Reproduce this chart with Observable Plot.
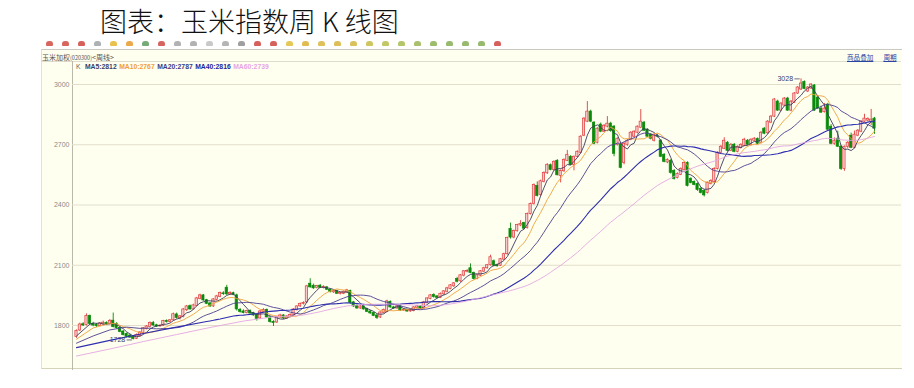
<!DOCTYPE html>
<html>
<head>
<meta charset="utf-8">
<script src="https://cdn.jsdelivr.net/npm/d3@7"></script>
<script src="https://cdn.jsdelivr.net/npm/@observablehq/plot@0.6"></script>
<style>
html, body { margin: 0; padding: 0; background: #ffffff; }
#root { position: relative; width: 914px; height: 388px; overflow: hidden; font-family: "Noto Sans CJK SC", sans-serif; }
#title { position: absolute; left: 100px; top: 4px; font-size: 27px; font-weight: 300; line-height: 34px; color: #111; white-space: pre; }
#panel { position: absolute; left: 0; top: 36px; width: 914px; height: 352px; }
#bg { position: absolute; left: 41px; top: 13px; width: 860px; height: 318px; background: #fffff0; border-top: 1px solid #c9c9c0; border-left: 1px solid #e2e2d4; border-bottom: 1px solid #d6d4b8; }
#sep { position: absolute; left: 41px; top: 25px; width: 860px; height: 1px; background: #dedccc; }
#axisline { position: absolute; left: 72px; top: 25px; width: 1px; height: 309px; background: #b9b9aa; }
#head { position: absolute; left: 42px; top: 15px; font-size: 7px; line-height: 12px; color: #555; white-space: pre; }
#head .code { font-size: 5.5px; }
#links { position: absolute; left: 847px; top: 15px; font-size: 6.6px; line-height: 12px; color: #2a44a0; white-space: pre; }
#links span { text-decoration: underline; margin-right: 10px; }
#legend { position: absolute; left: 76px; top: 26px; font-family: "Liberation Sans", sans-serif; font-weight: bold; font-size: 6.8px; line-height: 10px; white-space: pre; }
#legend span { margin-right: 2.5px; }
#toolbar span { position: absolute; top: 5px; width: 7px; height: 5px; border-radius: 3px 3px 1px 1px; opacity: 0.85; }
#chart { position: absolute; left: 0; top: 0; }
</style>
</head>
<body>
<div id="root">
  <div id="title">图表：玉米指数周 K 线图</div>
  <div id="panel">
    <div id="toolbar"></div>
    <div id="bg"></div>
    <div id="sep"></div>
    <div id="head">玉米加权<span class="code">(020300)</span>&lt;周线&gt;</div>
    <div id="links"><span>商品叠加</span><span>周期</span></div>
    <div id="legend"></div>
    <div id="axisline"></div>
    <div id="chart"></div>
  </div>
</div>
<script>
// ---- weekly candles ----
const open = [
1742,1775,1806,1802,1848,1808,1803,1797,1808,1813,
1806,1824,1808,1788,1770,1758,1750,1744,1734,1748,
1762,1784,1793,1812,1801,1796,1798,1822,1818,1826,
1855,1836,1842,1876,1896,1880,1898,1932,1950,1926,
1910,1895,1928,1942,1960,1988,1955,1961,1950,1878,
1870,1862,1872,1862,1852,1835,1868,1878,1840,1818,
1815,1840,1850,1835,1842,1850,1878,1895,1908,1915,
2008,1998,1988,1998,1988,1990,1978,1965,1972,1958,
1958,1965,1972,1915,1898,1885,1895,1882,1870,1862,
1850,1840,1862,1868,1918,1890,1885,1895,1875,1878,
1870,1872,1888,1895,1885,1912,1932,1952,1945,1938,
1955,1968,1982,1995,2032,2020,2048,2068,2085,2062,
2032,2048,2068,2085,2100,2120,2100,2098,2128,2155,
2280,2238,2270,2298,2310,2285,2355,2405,2495,2450,
2515,2558,2598,2575,2620,2545,2568,2620,2640,2600,
2640,2660,2745,2815,2865,2810,2710,2800,2765,2790,
2805,2790,2700,2700,2610,2700,2725,2740,2760,2785,
2810,2775,2750,2720,2745,2720,2650,2612,2620,2570,
2535,2550,2575,2610,2530,2515,2505,2480,2470,2460,
2505,2515,2580,2660,2680,2710,2670,2700,2665,2685,
2695,2720,2700,2720,2728,2710,2780,2757,2810,2840,
2915,2870,2895,2930,2870,2910,2955,2975,3012,2965,
2980,2995,2935,2880,2862,2900,2790,2705,2730,2690,
2580,2690,2745,2685,2745,2765,2815,2820,2815,2830];
const high = [
1778,1812,1814,1858,1852,1816,1810,1815,1822,1818,
1830,1862,1814,1793,1775,1762,1756,1750,1758,1770,
1790,1800,1818,1820,1806,1804,1826,1828,1830,1862,
1862,1850,1885,1900,1902,1906,1940,1956,1954,1930,
1914,1934,1950,1966,1968,2000,1968,1966,1956,1885,
1878,1876,1878,1866,1856,1874,1884,1882,1845,1824,
1846,1856,1854,1850,1858,1884,1898,1912,1918,2000,
2033,2006,2000,2004,1998,1994,1982,1976,1975,1966,
1972,1980,1976,1920,1902,1900,1898,1886,1874,1866,
1854,1868,1882,1926,1922,1896,1900,1898,1884,1882,
1880,1894,1900,1898,1920,1938,1954,1958,1948,1962,
1974,1990,2004,2014,2040,2054,2074,2078,2107,2066,
2054,2074,2090,2104,2150,2126,2106,2134,2160,2240,
2310,2275,2304,2322,2314,2360,2410,2505,2515,2524,
2565,2606,2604,2620,2626,2575,2630,2672,2646,2644,
2670,2745,2835,2915,2872,2815,2785,2808,2800,2840,
2812,2796,2735,2706,2710,2726,2765,2770,2794,2875,
2816,2780,2756,2754,2752,2726,2656,2630,2626,2576,
2560,2585,2615,2615,2536,2520,2510,2486,2476,2514,
2526,2586,2665,2696,2735,2716,2706,2706,2694,2705,
2732,2726,2730,2736,2734,2766,2786,2820,2846,2930,
2922,2910,2935,2936,2920,2960,2990,3028,3018,2990,
3004,3000,2942,2892,2906,2906,2800,2734,2768,2696,
2694,2716,2758,2768,2776,2820,2852,2834,2876,2836];
const low = [
1736,1770,1795,1798,1800,1794,1790,1794,1800,1801,
1802,1788,1782,1764,1748,1738,1735,1728,1730,1742,
1758,1778,1788,1796,1790,1790,1795,1812,1814,1822,
1832,1828,1838,1870,1876,1876,1894,1928,1920,1904,
1890,1890,1922,1938,1950,1950,1950,1948,1872,1862,
1858,1858,1856,1846,1822,1830,1862,1836,1812,1795,
1810,1836,1830,1830,1838,1846,1872,1890,1902,1910,
1986,1980,1982,1984,1982,1974,1962,1960,1954,1952,
1954,1960,1906,1890,1880,1880,1876,1864,1856,1844,
1830,1835,1858,1864,1886,1880,1880,1870,1870,1865,
1866,1868,1884,1880,1882,1908,1928,1936,1932,1934,
1950,1962,1978,1990,2012,2015,2042,2062,2058,2026,
2028,2044,2064,2080,2096,2092,2090,2094,2124,2150,
2230,2232,2264,2292,2276,2280,2350,2400,2440,2444,
2510,2552,2570,2570,2545,2510,2562,2616,2596,2570,
2634,2655,2740,2810,2810,2700,2704,2760,2760,2784,
2762,2640,2694,2580,2600,2692,2720,2734,2754,2780,
2766,2736,2724,2714,2734,2636,2610,2606,2554,2524,
2530,2546,2570,2490,2505,2496,2468,2455,2440,2455,
2500,2510,2574,2654,2676,2664,2666,2660,2660,2680,
2690,2696,2694,2716,2700,2704,2750,2752,2805,2835,
2866,2864,2890,2866,2864,2905,2950,2970,2974,2960,
2975,2866,2876,2856,2858,2770,2700,2698,2686,2572,
2568,2680,2680,2680,2740,2760,2810,2815,2795,2752];
const close = [
1772,1805,1800,1848,1808,1800,1797,1810,1814,1806,
1822,1792,1787,1768,1752,1744,1740,1733,1752,1765,
1786,1795,1813,1800,1795,1799,1822,1818,1826,1856,
1838,1846,1880,1895,1880,1900,1935,1950,1925,1908,
1895,1930,1945,1962,1956,1955,1962,1952,1880,1868,
1862,1872,1860,1850,1832,1870,1878,1840,1818,1812,
1842,1850,1835,1845,1852,1880,1895,1908,1912,1995,
1990,1985,1996,1988,1992,1978,1968,1972,1958,1962,
1968,1975,1912,1895,1885,1895,1880,1868,1860,1848,
1838,1865,1878,1920,1890,1885,1895,1875,1878,1870,
1875,1890,1895,1885,1915,1935,1950,1942,1938,1958,
1970,1985,2000,2010,2018,2050,2070,2072,2062,2032,
2050,2070,2085,2100,2140,2098,2095,2130,2155,2235,
2238,2270,2300,2305,2282,2355,2405,2500,2445,2518,
2560,2600,2575,2615,2548,2570,2625,2650,2600,2640,
2665,2740,2830,2865,2815,2705,2780,2765,2795,2805,
2768,2655,2730,2585,2705,2720,2760,2765,2790,2815,
2770,2740,2730,2750,2740,2640,2615,2625,2560,2530,
2555,2580,2610,2495,2510,2500,2475,2460,2448,2510,
2520,2580,2660,2690,2720,2670,2700,2665,2690,2700,
2725,2700,2725,2730,2705,2760,2755,2815,2840,2925,
2870,2905,2930,2870,2915,2955,2985,3005,2978,2985,
3000,2870,2880,2860,2880,2775,2705,2720,2690,2580,
2690,2710,2685,2750,2770,2815,2830,2828,2825,2780];

const maPeriods = [5, 10, 20, 40, 60];
const ma5LeadAt = [0];                 const ma5Lead = [1748];
const ma10LeadAt = [0, 5];             const ma10Lead = [1732, 1788];
const ma20LeadAt = [0, 5, 10, 15];     const ma20Lead = [1712, 1748, 1778, 1792];
const ma40LeadAt = [0, 10, 20, 30];    const ma40Lead = [1690, 1726, 1760, 1792];
const ma60LeadAt = [0, 10, 20, 30, 40, 50]; const ma60Lead = [1648, 1683, 1720, 1755, 1790, 1822];

const legendLabels = ["MA5:2812", "MA10:2767", "MA20:2787", "MA40:2816", "MA60:2739"];
const yTicks = [1800, 2100, 2400, 2700, 3000];

const maColors = ["#3a3a5e", "#eea23a", "#4b3c8e", "#2e2eae", "#e2a6e2"];
const legendColors = ["#3c3c64", "#f0a030", "#3c3c86", "#23239c", "#e6a4e6"];
const upStroke = "#e03c3c", upFill = "#f8cccc", downColor = "#0a8a0a";

const iconColors = ["#d24a43","#d24a43","#cf4540","#9ea3a3","#e6b62e","#e89a2c","#5e9b5e","#cf4a45","#a4a4a4","#a4a4a4","#c0c0c0","#a8a8a8","#8e8e8e","#cf4540","#cf4540","#e2be3a","#dcb232","#d8b63e","#d6b43c","#d2b63e","#c6bc44","#b8be4c","#a8bc50","#9ab652","#8cb052","#86ae54","#86ae54","#86ae54","#cf4540"];

// ---- toolbar + legend (HTML) ----
const tb = document.getElementById("toolbar");
iconColors.forEach((c, k) => {
  const s = document.createElement("span");
  s.style.left = (46 + k * 16) + "px";
  s.style.background = c;
  tb.appendChild(s);
});
const lg = document.getElementById("legend");
const k0 = document.createElement("span"); k0.textContent = "K "; k0.style.color = "#666"; k0.style.fontWeight = "normal"; lg.appendChild(k0);
legendLabels.forEach((t, k) => {
  const s = document.createElement("span");
  s.textContent = t;
  s.style.color = legendColors[k];
  lg.appendChild(s);
});

// ---- data tables ----
const candles = close.map((c, i) => ({i, o: open[i], h: high[i], l: low[i], c, up: c >= open[i]}));
const leads = [[ma5LeadAt, ma5Lead], [ma10LeadAt, ma10Lead], [ma20LeadAt, ma20Lead], [ma40LeadAt, ma40Lead], [ma60LeadAt, ma60Lead]];
function movingAverage(n, leadAt, leadVal) {
  const pts = leadAt.map((i, k) => ({i, v: leadVal[k]}));
  for (let i = n - 1; i < close.length; i++) pts.push({i, v: d3.mean(close.slice(i - n + 1, i + 1))});
  return pts;
}
const maLines = maPeriods.map((n, k) => movingAverage(n, leads[k][0], leads[k][1]));

const hiIdx = d3.maxIndex(high), loIdx = d3.minIndex(low);
const extremes = [{i: hiIdx, v: high[hiIdx]}, {i: loIdx, v: low[loIdx]}];

const chart = Plot.plot({
  width: 914,
  height: 352,
  marginLeft: 72,
  marginRight: 13,
  marginTop: 25,
  marginBottom: 18,
  style: {background: "transparent", color: "#8a8a8a", fontFamily: "Liberation Sans, sans-serif", fontSize: "7px"},
  x: {domain: [0, close.length - 1], range: [76, 874], axis: null},
  y: {domain: [1800, 3000], range: [289, 48], axis: null},
  marks: [
    Plot.ruleY(yTicks, {stroke: "#e2decb", strokeWidth: 1}),
    Plot.axisY(yTicks, {tickSize: 0, tickPadding: 3, tickFormat: d => String(d), label: null, fontSize: 7}),
    Plot.ruleX(candles, {x: "i", y1: "l", y2: "h", stroke: d => d.up ? upStroke : downColor, strokeWidth: 0.9}),
    Plot.rect(candles, {
      x1: d => d.i - 0.34, x2: d => d.i + 0.34,
      y1: d => Math.min(d.o, d.c), y2: d => Math.max(d.o, d.c),
      fill: d => d.up ? upFill : downColor,
      stroke: d => d.up ? upStroke : downColor,
      strokeWidth: 0.7
    }),
    ...maLines.map((pts, k) => Plot.line(pts, {x: "i", y: "v", stroke: maColors[k], strokeWidth: k === 3 ? 1.1 : 0.9})),
    Plot.link(extremes, {x1: d => d.i - 2, x2: d => d.i - 0.4, y1: "v", y2: "v", stroke: "#4a4a66", strokeWidth: 0.8}),
    Plot.text(extremes, {x: "i", y: "v", text: d => String(d.v), dx: -8, textAnchor: "end", fontSize: 7, fill: "#3a3a6a"})
  ]
});
document.getElementById("chart").appendChild(chart);
</script>
</body>
</html>
